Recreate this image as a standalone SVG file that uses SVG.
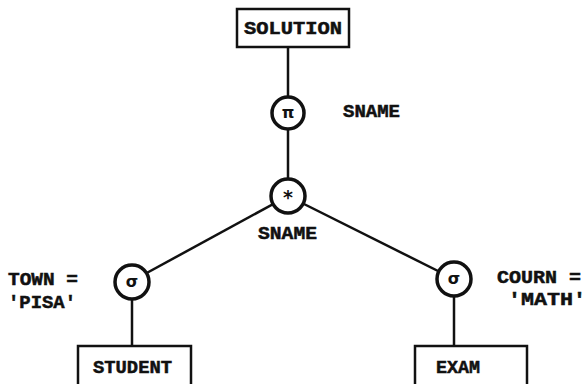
<svg xmlns="http://www.w3.org/2000/svg" width="587" height="384" viewBox="0 0 587 384">
<style>
.t{font-family:"Liberation Mono","DejaVu Sans Mono",monospace;font-weight:bold;font-size:18px;fill:#111;stroke:#111;stroke-width:0.5}
.s{font-family:"DejaVu Sans","Liberation Sans",sans-serif;font-weight:bold;font-size:16px;fill:#111;text-anchor:middle}
.b{fill:#fff;stroke:#111;stroke-width:2.5}
.c{fill:#fff;stroke:#111;stroke-width:3.5}
.l{stroke:#111;stroke-width:2.5;fill:none}
</style>
<rect width="587" height="384" fill="#fff"/>
<g id="connectors">
<line class="l" x1="288" y1="47" x2="288" y2="112"/>
<line class="l" x1="288" y1="112" x2="288" y2="196"/>
<line class="l" x1="288" y1="196" x2="132" y2="281"/>
<line class="l" x1="288" y1="196" x2="454" y2="279"/>
<line class="l" x1="132" y1="281" x2="132" y2="346"/>
<line class="l" x1="454" y1="279" x2="454" y2="346"/>
</g>
<g id="solution">
<rect class="b" x="237" y="9" width="112" height="38"/>
<text class="t" x="244" y="34" textLength="98" lengthAdjust="spacingAndGlyphs">SOLUTION</text>
</g>
<g id="project">
<circle class="c" cx="288" cy="113" r="16"/>
<text class="s" x="288" y="118">π</text>
<text class="t" x="343" y="117" textLength="57" lengthAdjust="spacingAndGlyphs">SNAME</text>
</g>
<g id="join">
<circle class="c" cx="288" cy="196" r="17"/>
<text class="s" x="288" y="204" style="font-size:19px">*</text>
<text class="t" x="258" y="239" textLength="59" lengthAdjust="spacingAndGlyphs">SNAME</text>
</g>
<g id="select-left">
<circle class="c" cx="132" cy="282" r="17"/>
<text class="s" x="132" y="287">σ</text>
<text class="t" x="8" y="285" textLength="70" lengthAdjust="spacingAndGlyphs">TOWN =</text>
<text class="t" x="8" y="308" textLength="68" lengthAdjust="spacingAndGlyphs">'PISA'</text>
</g>
<g id="select-right">
<circle class="c" cx="454" cy="279" r="17"/>
<text class="s" x="454" y="284">σ</text>
<text class="t" x="497" y="283" textLength="84" lengthAdjust="spacingAndGlyphs">COURN =</text>
<text class="t" x="508" y="305" textLength="78" lengthAdjust="spacingAndGlyphs">'MATH'</text>
</g>
<g id="student">
<rect class="b" x="78" y="346" width="113" height="50"/>
<text class="t" x="93" y="373" textLength="79" lengthAdjust="spacingAndGlyphs">STUDENT</text>
</g>
<g id="exam">
<rect class="b" x="415" y="346" width="112" height="50"/>
<text class="t" x="436" y="373" textLength="44" lengthAdjust="spacingAndGlyphs">EXAM</text>
</g>
</svg>
